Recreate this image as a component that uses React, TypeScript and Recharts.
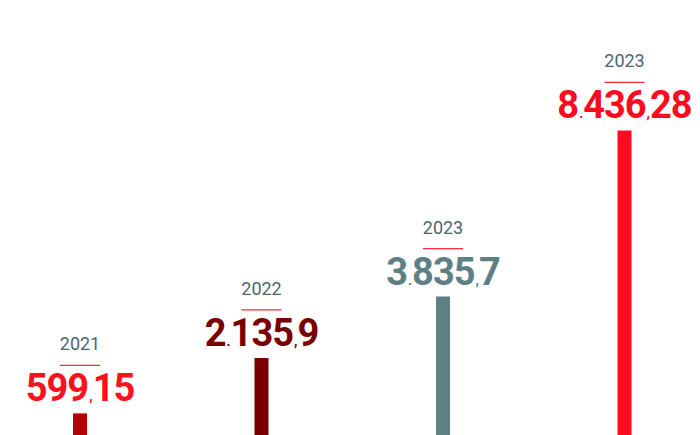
import { Bar, BarChart, Cell, LabelList, XAxis, YAxis } from "recharts";

const keys = ["a", "b", "c", "d"];
const years = ["2021", "2022", "2023", "2023"];
const values = [599.15, 2135.9, 3835.7, 8436.28];
const valueLabels = ["599,15", "2.135,9", "3.835,7", "8.436,28"];

const BAR_COLORS = ["#b30000", "#7a0000", "#5f8082", "#ff0b1f"];
const LABEL_COLORS = ["#ff1020", "#7a0000", "#5f8082", "#ff0b1f"];

const chartData = keys.map((key, i) => ({
  key,
  year: years[i],
  value: values[i],
}));

// split "2.135,9" into digit runs and small separators
function splitLabel(text: string) {
  return text.split(/([.,])/).filter((s) => s.length > 0);
}

const BarLabel = (props: any) => {
  const { x, y, width, index } = props;
  const cx = x + width / 2;
  const parts = splitLabel(valueLabels[index]);
  return (
    <g>
      <text
        x={cx}
        y={y - 63}
        textAnchor="middle"
        fontFamily="Roboto, sans-serif"
        fontSize={18}
        fill="#4d6770"
      >
        {years[index]}
      </text>
      <line
        x1={cx - 20}
        x2={cx + 20}
        y1={y - 48}
        y2={y - 48}
        stroke="#ff2a3a"
        strokeWidth={1.2}
      />
      <text
        x={cx}
        y={y - 12}
        textAnchor="middle"
        fontFamily="Roboto, sans-serif"
        fontWeight={700}
        fontSize={38}
        letterSpacing={-1}
        fill={LABEL_COLORS[index]}
      >
        {parts.map((p, i) =>
          p === "." || p === "," ? (
            <tspan key={i} fontSize={14} dx={1}>
              {p}
            </tspan>
          ) : (
            <tspan key={i} dx={i === 0 ? 0 : 1}>
              {p}
            </tspan>
          )
        )}
      </text>
    </g>
  );
};

export default function App() {
  return (
    <div
      style={{
        position: "absolute",
        left: 0,
        top: 0,
        width: 700,
        height: 435,
        overflow: "hidden",
        background: "#ffffff",
      }}
    >
      <div style={{ marginLeft: -11 }}>
        <BarChart
          width={726}
          height={435}
          data={chartData}
          margin={{ top: 0, right: 0, left: 0, bottom: 0 }}
        >
          <XAxis dataKey="key" hide />
          <YAxis hide domain={[0, 12050]} />
          <Bar dataKey="value" barSize={14} isAnimationActive={false}>
            {chartData.map((entry, index) => (
              <Cell key={`cell-${index}`} fill={BAR_COLORS[index]} />
            ))}
            <LabelList dataKey="value" content={<BarLabel />} />
          </Bar>
        </BarChart>
      </div>
    </div>
  );
}
